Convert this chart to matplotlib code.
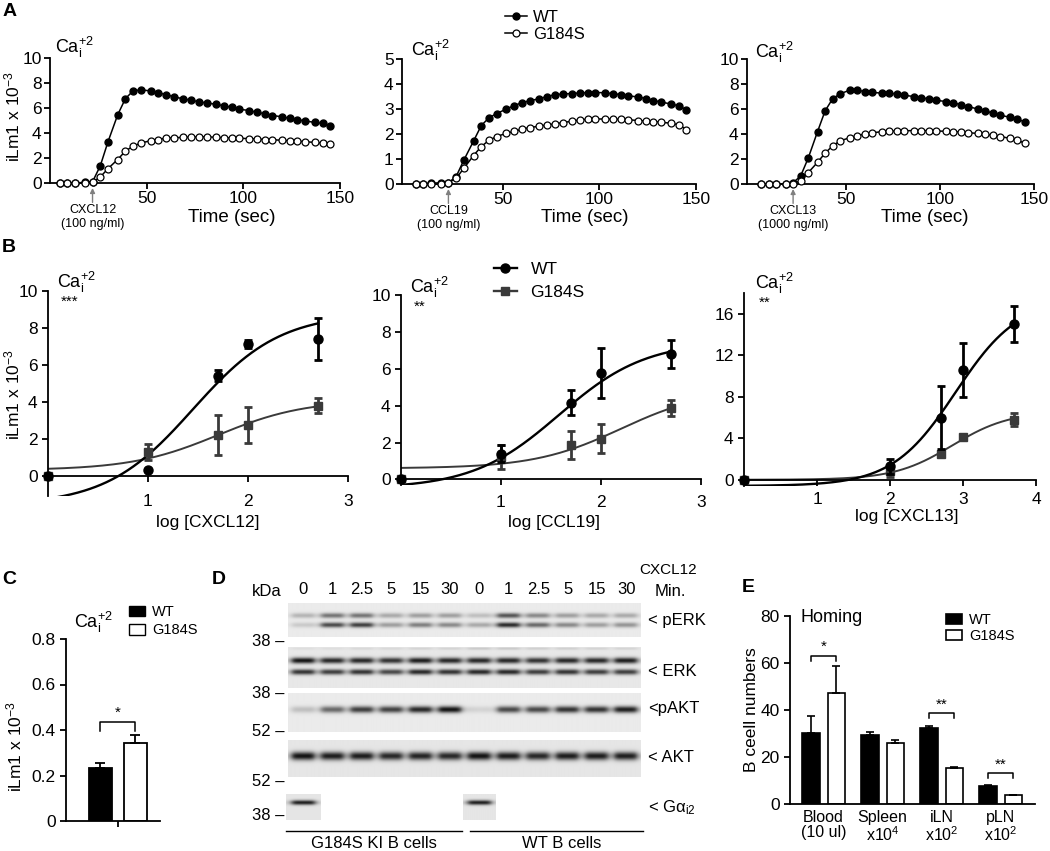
import matplotlib
matplotlib.use('Agg')
import matplotlib.pyplot as plt
from matplotlib.lines import Line2D
from matplotlib.patches import Patch
import matplotlib.transforms as mtransforms
import numpy as np

plt.rcParams['font.family'] = ['Liberation Sans', 'DejaVu Sans']
plt.rcParams['mathtext.default'] = 'regular'
plt.rcParams['axes.linewidth'] = 1.3
plt.rcParams['xtick.major.width'] = 1.3
plt.rcParams['ytick.major.width'] = 1.3
plt.rcParams['xtick.major.size'] = 4
plt.rcParams['ytick.major.size'] = 4

# ---------------- data ----------------
# A: calcium flux time course
time_s = [5, 9, 13, 18, 22, 26, 30, 35, 39, 43, 47, 52, 56, 60, 64, 69, 73,
          77, 81, 86, 90, 94, 98, 103, 107, 111, 115, 120, 124, 128, 132, 137, 141, 145]
a_cxcl12_wt = [0, 0, 0, 0.05, 0.1, 1.37, 3.3, 5.45, 6.75, 7.37, 7.45, 7.37, 7.2, 7.08,
               6.9, 6.73, 6.62, 6.5, 6.4, 6.3, 6.17, 6.06, 5.9, 5.8, 5.65, 5.55, 5.4,
               5.3, 5.17, 5.07, 4.96, 4.85, 4.77, 4.58]
a_cxcl12_g = [0, 0, 0, 0, 0.05, 0.48, 1.15, 1.88, 2.55, 2.95, 3.2, 3.38, 3.48, 3.59,
              3.62, 3.65, 3.68, 3.68, 3.7, 3.65, 3.62, 3.6, 3.58, 3.55, 3.52, 3.48, 3.46,
              3.42, 3.38, 3.35, 3.3, 3.25, 3.2, 3.15]
a_ccl19_wt = [0, 0.02, 0.03, 0.05, 0.05, 0.3, 0.96, 1.72, 2.34, 2.65, 2.82, 3.0, 3.14,
              3.25, 3.33, 3.41, 3.5, 3.57, 3.6, 3.62, 3.64, 3.66, 3.66, 3.65, 3.61, 3.58,
              3.53, 3.48, 3.42, 3.34, 3.28, 3.2, 3.13, 2.97]
a_ccl19_g = [0, 0, 0, 0, 0.05, 0.23, 0.63, 1.14, 1.5, 1.75, 1.9, 2.03, 2.11, 2.19, 2.26,
             2.31, 2.37, 2.4, 2.46, 2.51, 2.57, 2.59, 2.6, 2.6, 2.59, 2.59, 2.57, 2.54,
             2.52, 2.5, 2.47, 2.43, 2.37, 2.18]
a_cxcl13_wt = [0, 0, 0, 0, 0.1, 0.64, 2.06, 4.2, 5.85, 6.82, 7.22, 7.5, 7.5, 7.4, 7.33,
               7.27, 7.27, 7.2, 7.1, 7.0, 6.92, 6.8, 6.7, 6.6, 6.5, 6.35, 6.2, 6.0, 5.85,
               5.67, 5.5, 5.35, 5.2, 4.97]
a_cxcl13_g = [0, 0, 0, 0, 0.02, 0.27, 0.9, 1.74, 2.47, 3.05, 3.45, 3.7, 3.86, 4.0, 4.1,
              4.18, 4.22, 4.24, 4.25, 4.28, 4.28, 4.26, 4.24, 4.22, 4.2, 4.15, 4.1, 4.05,
              3.98, 3.9, 3.8, 3.66, 3.53, 3.26]

# B: dose response (mean, sem) and fitted curves (bottom, top, logEC50, hill)
log_cxcl12 = [0, 1, 1.7, 2, 2.7]
b_cxcl12_wt = [0, 0.3, 5.4, 7.12, 7.4]
b_cxcl12_wt_err = [0, 0, 0.3, 0.2, 1.15]
b_cxcl12_g = [0, 1.28, 2.2, 2.75, 3.8]
b_cxcl12_g_err = [0, 0.42, 1.06, 0.97, 0.42]
fit_cxcl12_wt = (-1.6, 8.8, 1.45, 1.0)
fit_cxcl12_g = (0.3, 4.1, 1.7, 1.0)

log_ccl19 = [0, 1, 1.7, 2, 2.7]
b_ccl19_wt = [0, 1.4, 4.17, 5.77, 6.8]
b_ccl19_wt_err = [0, 0.45, 0.7, 1.35, 0.75]
b_ccl19_g = [0, 1.2, 1.87, 2.2, 3.87]
b_ccl19_g_err = [0, 0.65, 0.75, 0.78, 0.43]
fit_ccl19_wt = (-0.5, 7.5, 1.58, 1.0)
fit_ccl19_g = (0.6, 4.9, 2.2, 1.0)

log_cxcl13 = [0, 2, 2.7, 3, 3.7]
b_cxcl13_wt = [0, 1.3, 6.0, 10.55, 15.0]
b_cxcl13_wt_err = [0, 0.7, 3.0, 2.6, 1.7]
b_cxcl13_g = [0, 0.8, 2.48, 4.12, 5.8]
b_cxcl13_g_err = [0, 0.5, 0.2, 0.2, 0.65]
fit_cxcl13_wt = (-0.6, 17.5, 2.9, 1.0)
fit_cxcl13_g = (0.0, 6.6, 2.85, 1.1)

# C: basal calcium
c_groups = ['WT', 'G184S']
c_means = [0.232, 0.344]
c_errs = [0.025, 0.035]

# D: western blot band intensities (0 = none, 1 = darkest), 12 lanes
lane_labels = ['0', '1', '2.5', '5', '15', '30', '0', '1', '2.5', '5', '15', '30']
perk_upper = [0.25, 0.55, 0.55, 0.3, 0.35, 0.35, 0.2, 0.7, 0.45, 0.35, 0.3, 0.3]
perk_lower = [0.15, 0.75, 0.8, 0.35, 0.5, 0.45, 0.3, 0.9, 0.6, 0.45, 0.35, 0.4]
erk_faint = [0.05, 0.05, 0.08, 0.08, 0.1, 0.1, 0.15, 0.15, 0.12, 0.12, 0.1, 0.1]
erk_upper = [1.0, 0.9, 0.9, 0.85, 0.95, 0.9, 0.9, 0.9, 0.85, 0.9, 0.9, 0.95]
erk_lower = [0.85, 0.8, 0.85, 0.75, 0.9, 0.85, 0.9, 0.9, 0.8, 0.85, 0.8, 0.8]
pakt = [0.2, 0.6, 0.8, 0.78, 0.9, 1.0, 0.1, 0.75, 0.75, 0.85, 0.85, 0.95]
akt = [1.0, 0.95, 0.95, 0.9, 0.92, 0.9, 1.0, 0.95, 0.9, 0.95, 0.95, 0.95]
gai2 = [0.95, 0, 0, 0, 0, 0, 0.95, 0, 0, 0, 0, 0]

# E: homing
e_tissues = ['Blood\n(10 ul)', 'Spleen\nx10$^4$', 'iLN\nx10$^2$', 'pLN\nx10$^2$']
e_wt = [30.1, 29.2, 32.5, 7.7]
e_wt_err = [7.3, 1.6, 0.5, 0.3]
e_g = [47.1, 25.8, 15.5, 3.8]
e_g_err = [11.6, 1.4, 0.3, 0.2]

CA = 'Ca$_i^{+2}$'
YLAB = 'iLm1 x 10$^{-3}$'
G_COLOR = '#3a3a3a'

W, H = 1050, 851
fig = plt.figure(figsize=(W / 100, H / 100), dpi=100)


def box(l, t, r, b):
    return [l / W, 1 - b / H, (r - l) / W, (b - t) / H]


def ftext(x, y, s, **kw):
    kw.setdefault('ha', 'left')
    kw.setdefault('va', 'center')
    return fig.text(x / W, 1 - y / H, s, **kw)


def clean(ax):
    ax.spines['top'].set_visible(False)
    ax.spines['right'].set_visible(False)


def logistic(x, p):
    bottom, top, ec50, hill = p
    return bottom + (top - bottom) / (1 + 10 ** ((ec50 - x) * hill))


# ---------------- A ----------------
def flux_panel(rect, wt, g, ylim, yticks, xlim, chem, dose, arrow_t):
    ax = fig.add_axes(rect)
    clean(ax)
    ax.plot(time_s, wt, '-o', color='k', lw=1.1, ms=5, mfc='k', mec='k',
            clip_on=False, zorder=3, label='WT')
    ax.plot(time_s, g, '-o', color='k', lw=1.1, ms=5, mfc='white', mec='k',
            mew=0.9, clip_on=False, zorder=3, label='G184S')
    ax.set_xlim(*xlim)
    ax.set_ylim(*ylim)
    ax.set_xticks([50, 100, 150])
    ax.set_yticks(yticks)
    ax.tick_params(labelsize=12.5, pad=2)
    tr = mtransforms.blended_transform_factory(ax.transData, ax.transAxes)
    ax.annotate('', xy=(arrow_t, -0.04), xycoords=tr, xytext=(arrow_t, -0.155),
                textcoords=tr, arrowprops=dict(arrowstyle='-|>', color='#808080',
                                               lw=1.0, mutation_scale=7,
                                               shrinkA=0, shrinkB=0))
    ax.text(arrow_t, -0.17, f'{chem}\n({dose})', transform=tr, ha='center',
            va='top', fontsize=9, linespacing=1.15)
    return ax


a1 = flux_panel(box(50, 58, 340, 183), a_cxcl12_wt, a_cxcl12_g, (0, 10),
                [0, 2, 4, 6, 8, 10], (0, 150), 'CXCL12', '100 ng/ml', 22)
a2 = flux_panel(box(402, 59, 696, 184), a_ccl19_wt, a_ccl19_g, (0, 5),
                [0, 1, 2, 3, 4, 5], (-2, 150), 'CCL19', '100 ng/ml', 22)
a3 = flux_panel(box(747, 59, 1034, 184), a_cxcl13_wt, a_cxcl13_g, (0, 10),
                [0, 2, 4, 6, 8, 10], (-2.5, 150), 'CXCL13', '1000 ng/ml', 22)
for x, y in [(55, 47), (411, 50), (755, 52)]:
    ftext(x, y, CA, fontsize=13)
for x in [232, 585, 925]:
    ftext(x, 218, 'Time (sec)', ha='center', fontsize=13.5)
ftext(12, 117, YLAB, rotation=90, ha='center', fontsize=12.5)
h, l = a1.get_legend_handles_labels()
fig.legend(h, l, loc='upper left', bbox_to_anchor=(505 / W, 1 - 10 / H),
           bbox_transform=fig.transFigure, frameon=False, fontsize=12,
           borderpad=0, borderaxespad=0, handlelength=1.3, handletextpad=0.4,
           labelspacing=0.12)


# ---------------- B ----------------
def dose_panel(rect, xs, wt, wt_err, g, g_err, fwt, fg, xlim, ylim, yticks, xticks, xpad):
    ax = fig.add_axes(rect)
    clean(ax)
    ax.spines['bottom'].set_position(('data', 0))
    xx = np.linspace(0, xs[-1], 200)
    ax.plot(xx, logistic(xx, fg), color=G_COLOR, lw=1.4, zorder=2)
    ax.plot(xx, logistic(xx, fwt), color='k', lw=1.7, zorder=2)
    ax.errorbar(xs, g, yerr=g_err, fmt='s', color=G_COLOR, ms=6, capsize=3,
                elinewidth=2, capthick=2, clip_on=False, zorder=3)
    ax.errorbar(xs, wt, yerr=wt_err, fmt='o', color='k', ms=6.5, capsize=3,
                elinewidth=2, capthick=2, clip_on=False, zorder=4)
    ax.set_xlim(*xlim)
    ax.set_ylim(*ylim)
    ax.set_xticks(xticks)
    ax.set_yticks(yticks)
    ax.tick_params(labelsize=12.5)
    ax.tick_params(axis='x', pad=xpad)
    return ax


b1 = dose_panel(box(48, 291, 348, 496), log_cxcl12, b_cxcl12_wt, b_cxcl12_wt_err,
                b_cxcl12_g, b_cxcl12_g_err, fit_cxcl12_wt, fit_cxcl12_g,
                (0, 3), (-1.1, 10), [0, 2, 4, 6, 8, 10], [1, 2, 3], 9)
b2 = dose_panel(box(401, 295, 701, 485), log_ccl19, b_ccl19_wt, b_ccl19_wt_err,
                b_ccl19_g, b_ccl19_g_err, fit_ccl19_wt, fit_ccl19_g,
                (0, 3), (-0.3, 10), [0, 2, 4, 6, 8, 10], [1, 2, 3], 7)
b3 = dose_panel(box(744, 293, 1036, 486), log_cxcl13, b_cxcl13_wt, b_cxcl13_wt_err,
                b_cxcl13_g, b_cxcl13_g_err, fit_cxcl13_wt, fit_cxcl13_g,
                (0, 4), (-0.6, 18), [0, 4, 8, 12, 16], [1, 2, 3, 4], 5)
for x, y, st in [(57, 282, '***'), (410, 287, '**'), (755, 283, '**')]:
    ftext(x, y, CA, fontsize=13)
    ftext(x + 4, y + 20, st, fontsize=11)
ftext(208, 523, 'log [CXCL12]', ha='center', fontsize=12.5)
ftext(554, 522, 'log [CCL19]', ha='center', fontsize=12.5)
ftext(907, 516, 'log [CXCL13]', ha='center', fontsize=12.5)
ftext(12, 395, YLAB, rotation=90, ha='center', fontsize=12.5)
b_handles = [Line2D([], [], color='k', lw=1.7, marker='o', ms=6.5),
             Line2D([], [], color=G_COLOR, lw=1.7, marker='s', ms=6)]
fig.legend(b_handles, ['WT', 'G184S'], loc='upper left',
           bbox_to_anchor=(494 / W, 1 - 262 / H),
           bbox_transform=fig.transFigure, frameon=False, fontsize=12.5,
           borderpad=0, borderaxespad=0, handlelength=1.3, handletextpad=0.8,
           labelspacing=0.45)

# ---------------- C ----------------
axc = fig.add_axes(box(66, 639, 160, 821))
clean(axc)
cx = np.arange(len(c_groups))
axc.bar(cx, c_means, width=0.66, color=['k', 'white'], edgecolor='k', lw=1.3)
axc.errorbar(cx, c_means, yerr=[[0, 0], c_errs], fmt='none', ecolor='k',
             capsize=3.5, elinewidth=1.3, capthick=1.3)
axc.set_xlim(-0.98, 1.71)
axc.set_ylim(0, 0.8)
axc.set_yticks([0, 0.2, 0.4, 0.6, 0.8])
axc.set_yticklabels(['0', '0.2', '0.4', '0.6', '0.8'])
axc.set_xticks([0.5])
axc.set_xticklabels([''])
axc.tick_params(labelsize=12.5)
yb = 0.435
axc.plot([cx[0], cx[0], cx[1], cx[1]], [yb - 0.038, yb, yb, yb - 0.038], color='k', lw=1.1)
axc.text(0.5, yb + 0.01, '*', ha='center', va='bottom', fontsize=11)
ftext(74, 622, CA, fontsize=13)
ftext(14, 747, YLAB, rotation=90, ha='center', fontsize=12.5)
fig.legend([Patch(fc='k', ec='k'), Patch(fc='white', ec='k')], c_groups,
           loc='upper left', bbox_to_anchor=(129 / W, 1 - 605 / H),
           bbox_transform=fig.transFigure, frameon=False, fontsize=10.5,
           borderpad=0, borderaxespad=0, handlelength=1.1, handleheight=0.75,
           handletextpad=0.5, labelspacing=0.3)

# ---------------- D (western blot) ----------------
axd = fig.add_axes(box(285.4, 560, 642.6, 851))
axd.axis('off')


def blot_strip(x0, x1, top, bottom, bands, bg=0.91):
    xs = np.linspace(x0, x1, 420)
    ys = np.linspace(top, bottom, int((bottom - top) * 3))
    X, Y = np.meshgrid(xs, ys)
    dark = np.zeros_like(X)
    for yc, sy, inten in bands:
        for lane, a in enumerate(inten):
            if a <= 0:
                continue
            dark += a * np.exp(-((Y - yc) / sy) ** 2) / (1 + ((X - lane) / 0.4) ** 6)
    img = bg - np.clip(dark, 0, 1) * (bg - 0.08)
    axd.imshow(img, extent=(x0, x1, bottom, top), cmap='gray', vmin=0, vmax=1,
               aspect='auto', interpolation='bilinear')


blot_strip(-0.5, 11.5, 603, 637, [(615.5, 2.6, perk_upper), (625, 2.6, perk_lower)], bg=0.92)
blot_strip(-0.5, 11.5, 647, 688, [(648.5, 1.3, erk_faint), (660.5, 3.0, erk_upper),
                                  (672, 2.8, erk_lower)])
blot_strip(-0.5, 11.5, 693, 732, [(709.5, 3.4, pakt)], bg=0.92)
blot_strip(-0.5, 11.5, 740, 777, [(756, 4.2, akt)], bg=0.9)
blot_strip(-0.58, 0.58, 794, 820, [(802.5, 2.4, gai2)], bg=0.9)
blot_strip(5.45, 6.55, 794, 820, [(802.5, 2.4, gai2)], bg=0.9)
axd.set_xlim(-0.6, 11.55)
axd.set_ylim(851, 560)
for i, lab in enumerate(lane_labels):
    axd.text(i, 590, lab, ha='center', va='center', fontsize=12)
axd.text(-1.22, 592, 'kDa', ha='center', va='center', fontsize=12)
axd.text(12.4, 570, 'CXCL12', ha='center', va='center', fontsize=11)
axd.text(12.5, 592, 'Min.', ha='center', va='center', fontsize=12)
for y, m in [(642, '38'), (693, '38'), (731, '52'), (782, '52'), (815, '38')]:
    axd.text(-0.62, y, m + ' \u2013', ha='right', va='center', fontsize=12)
for y, m in [(621, '< pERK'), (672, '< ERK'), (709, '<pAKT'), (757, '< AKT'),
             (808, '< G\u03b1$_{i2}$')]:
    axd.text(11.75, y, m, ha='left', va='center', fontsize=12)
axd.plot([-0.58, 5.4], [831, 831], color='k', lw=1.0, clip_on=False)
axd.plot([5.68, 11.55], [831, 831], color='k', lw=1.0, clip_on=False)
axd.text(2.4, 844, 'G184S KI B cells', ha='center', va='center', fontsize=12)
axd.text(8.8, 844, 'WT B cells', ha='center', va='center', fontsize=12)

# ---------------- E ----------------
axe = fig.add_axes(box(790, 616, 1035, 804))
clean(axe)
ex = np.arange(len(e_tissues))
axe.bar(ex - 0.216, e_wt, width=0.3, color='k', edgecolor='k', lw=1.2, label='WT')
axe.bar(ex + 0.216, e_g, width=0.29, color='white', edgecolor='k', lw=1.2, label='G184S')
axe.errorbar(ex - 0.216, e_wt, yerr=[[0] * 4, e_wt_err], fmt='none', ecolor='k',
             capsize=3, elinewidth=1.2, capthick=1.2)
axe.errorbar(ex + 0.216, e_g, yerr=[[0] * 4, e_g_err], fmt='none', ecolor='k',
             capsize=3, elinewidth=1.2, capthick=1.2)
axe.set_xlim(-0.568, 3.585)
axe.set_ylim(0, 80)
axe.set_yticks([0, 20, 40, 60, 80])
axe.set_xticks(ex)
axe.set_xticklabels(e_tissues, fontsize=11.5, linespacing=1.05)
axe.tick_params(axis='y', labelsize=12.5)
axe.tick_params(axis='x', length=0, pad=4)
for i, yb, st in [(0, 63, '*'), (2, 38.6, '**'), (3, 13, '**')]:
    axe.plot([i - 0.216, i - 0.216, i + 0.216, i + 0.216], [yb - 2, yb, yb, yb - 2],
             color='k', lw=1.1)
    axe.text(i, yb + 0.8, st, ha='center', va='bottom', fontsize=11)
ftext(800, 617, 'Homing', fontsize=13)
ftext(751, 710, 'B ceell numbers', rotation=90, ha='center', fontsize=12.5)
h, l = axe.get_legend_handles_labels()
fig.legend(h, l, loc='upper left', bbox_to_anchor=(946 / W, 1 - 613 / H),
           bbox_transform=fig.transFigure, frameon=False, fontsize=10.5,
           borderpad=0, borderaxespad=0, handlelength=1.1, handleheight=0.75,
           handletextpad=0.5, labelspacing=0.15)

# panel letters
for x, y, s in [(3, 11, 'A'), (2, 247, 'B'), (2, 579, 'C'), (212, 579, 'D'), (742, 587, 'E')]:
    ftext(x, y, s, fontsize=14, fontweight='bold')

fig.savefig('out.png', dpi=100)
